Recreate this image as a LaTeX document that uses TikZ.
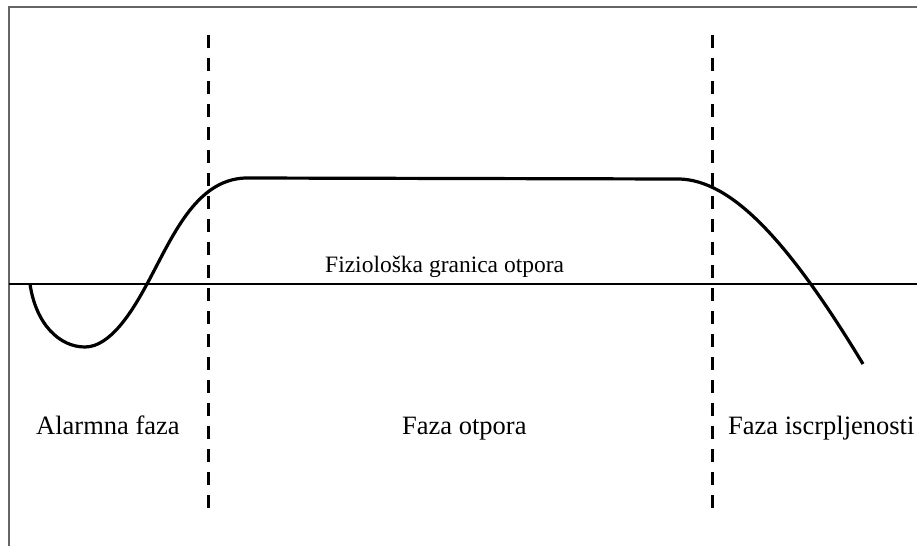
\documentclass[tikz,border=0pt]{standalone}
\usepackage{fontspec}
\setmainfont{Liberation Serif}

\begin{document}
\begin{tikzpicture}
[x=1pt,y=-1pt,every node/.style={inner sep=0pt,anchor=base west,font=\fontsize{26.5}{30}\selectfont},
phase/.style={line width=3pt,dash pattern=on 13pt off 10pt}]
\useasboundingbox (0,0) rectangle (917,546);
\draw[gray!80!black,line width=1.2pt] (917,7) -- (9,7) -- (9,546);
\draw[line width=2.3pt] (9,284) -- (917,284);
\foreach \x in {208,712}
\draw[phase] (\x,35) -- (\x,518);
\draw[line width=3.2pt] (30,284) .. controls (36,325) and (60,347) .. (85,347)
 .. controls (110,347) and (132,312) .. (147,284)
 .. controls (172,238) and (195,180) .. (245,178) -- (680,179)
 .. controls (730,181) and (785,235) .. (863,364);
\node[font=\fontsize{23.5}{28}\selectfont] (granica) at (325,272) {Fiziološka granica otpora};
\node (alarm) at (36,434) {Alarmna faza};
\node (otpor) at (402,434) {Faza otpora};
\node (iscrp) at (728,434) {Faza iscrpljenosti};
\end{tikzpicture}
\end{document}
